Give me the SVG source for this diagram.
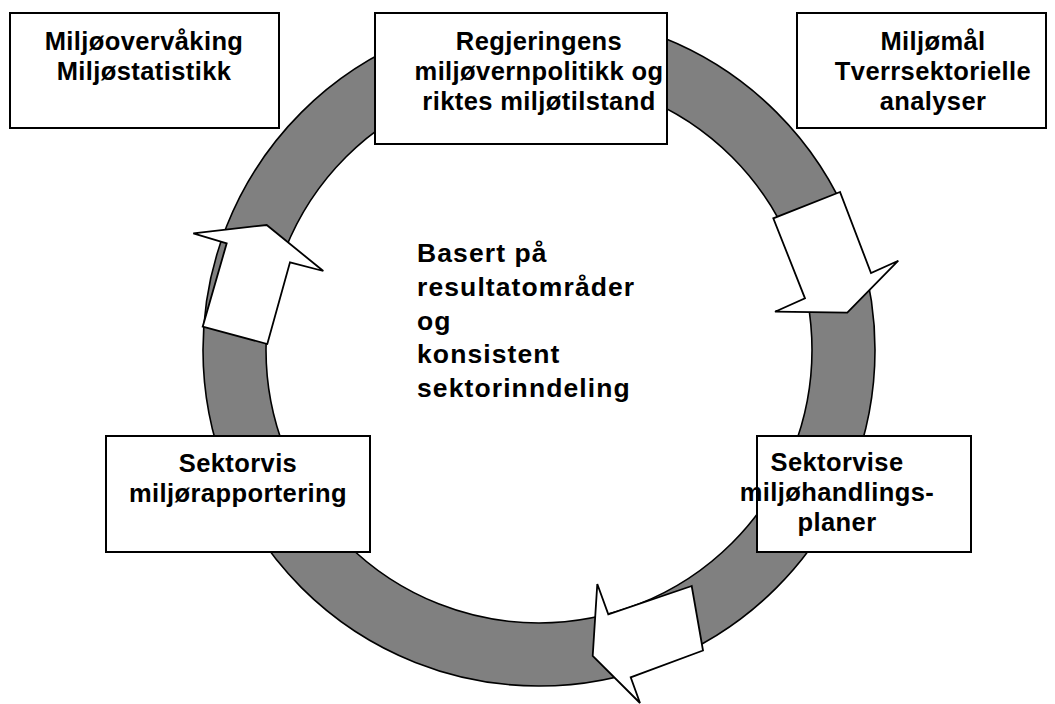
<svg xmlns="http://www.w3.org/2000/svg" width="1055" height="704" viewBox="0 0 1055 704">
<style>
.box{fill:#fff;stroke:#000;stroke-width:2}
.ring{fill:#808080;stroke:#000;stroke-width:1.6;fill-rule:evenodd}
.arrow{fill:#fff;stroke:#000;stroke-width:1.8;stroke-linejoin:miter}
.t{font-family:"Liberation Sans",Arial,sans-serif;font-weight:bold;font-size:25.5px;letter-spacing:0.4px;fill:#000}
.c{text-anchor:middle}
.big{font-size:26.5px;letter-spacing:1.1px}
</style>
<rect width="1055" height="704" fill="#fff"/>
<g id="cycle">
<path class="ring" d="M203,350 A336,336 0 1,0 875,350 A336,336 0 1,0 203,350 Z M266,350 A273,273 0 1,0 812,350 A273,273 0 1,0 266,350 Z"/>
</g>
<g id="connectors">
<polygon class="arrow" points="266.7,225 323.3,271 290,262.3 267.3,344 202.7,326.7 226.7,243.3 193.3,233.3"/>
<polygon class="arrow" points="840,192 773.3,218.3 805,298.3 775,311.7 847.3,312.7 898.3,260.7 871,273"/>
<polygon class="arrow" points="691.7,586 608.3,614.3 597.3,584 592.7,656 640,703 630.7,677.3 703,650.5"/>
</g>
<g id="n-monitoring">
<rect class="box" x="10" y="13" width="269" height="115"/>
<text class="t c" x="144" y="50">Miljøovervåking</text>
<text class="t c" x="144" y="80">Miljøstatistikk</text>
</g>
<g id="n-policy">
<rect class="box" x="375" y="13" width="292" height="131"/>
<text class="t c" x="539" y="50">Regjeringens</text>
<text class="t c" x="539" y="80">miljøvernpolitikk og</text>
<text class="t c" x="539" y="110">riktes miljøtilstand</text>
</g>
<g id="n-goals">
<rect class="box" x="797" y="13" width="249" height="115"/>
<text class="t c" x="933" y="50">Miljømål</text>
<text class="t c" x="933" y="80">Tverrsektorielle</text>
<text class="t c" x="933" y="110">analyser</text>
</g>
<g id="n-reporting">
<rect class="box" x="106" y="436" width="264" height="116"/>
<text class="t c" x="238" y="472">Sektorvis</text>
<text class="t c" x="238" y="502">miljørapportering</text>
</g>
<g id="n-plans">
<rect class="box" x="757" y="436" width="214" height="116"/>
<text class="t c" x="837" y="471">Sektorvise</text>
<text class="t c" x="837" y="501">miljøhandlings-</text>
<text class="t c" x="837" y="531">planer</text>
</g>
<g id="center-label">
<text class="t big" x="417" y="262">Basert på</text>
<text class="t big" x="417" y="296">resultatområder</text>
<text class="t big" x="417" y="330">og</text>
<text class="t big" x="417" y="363">konsistent</text>
<text class="t big" x="417" y="397">sektorinndeling</text>
</g>
</svg>
